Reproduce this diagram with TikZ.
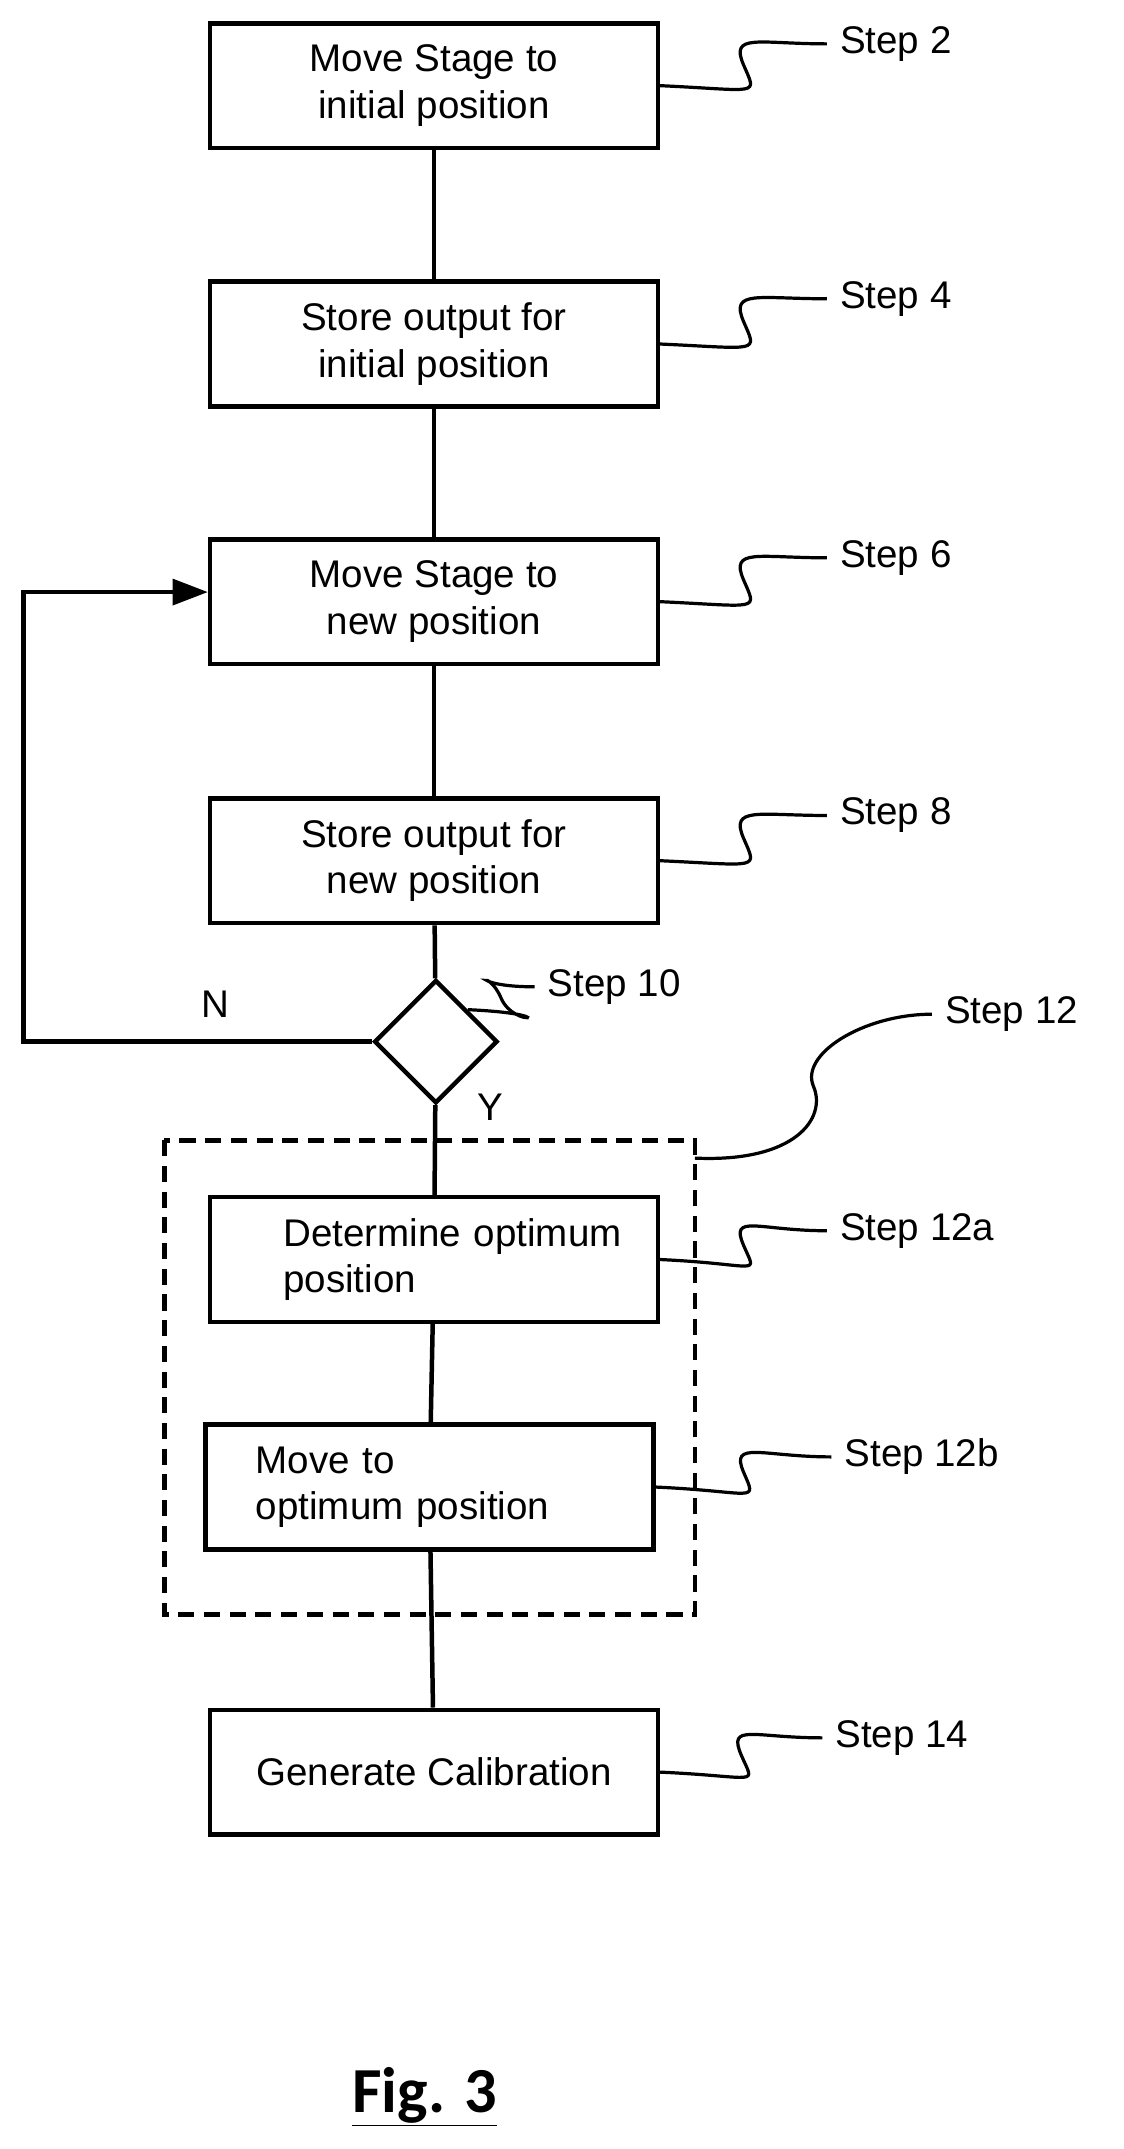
\documentclass[tikz,border=0pt]{standalone}
\usepackage{fontspec}
\setmainfont{Liberation Sans}
\newfontfamily\figfont{Carlito}
\usetikzlibrary{shapes.geometric, arrows.meta, calc}

\tikzset{
	box/.style={draw, line width=2.8pt, minimum width=9.8cm, minimum height=2.73cm, align=center, inner sep=4pt},
	dec/.style={draw, diamond, line width=2.8pt, inner sep=0pt, minimum width=2.7cm, minimum height=2.7cm},
	link/.style={line width=2.8pt},
	wig/.style={line width=2pt},
	lbl/.style={anchor=west, inner sep=8pt}
}
\newcommand{\wiggle}[2]{%
	\draw[wig] (#1) .. controls +(2.2,-0.1) and +(0.3,-0.7) .. ($(#1)!0.5!(#2.west)$)
	.. controls +(-0.3,0.7) and +(-1.5,0) .. (#2.west);}

\begin{document}
\begin{tikzpicture}[font=\fontsize{24}{29}\selectfont]
	\useasboundingbox (0,0) rectangle (24.6,-47.04);
	% process boxes
	\node[box] (mv1) at (9.5,-1.875) {Move Stage to\\initial position};
	\node[box] (st1) at (9.5,-7.53) {Store output for\\initial position};
	\node[box] (mv2) at (9.5,-13.17) {Move Stage to\\new position};
	\node[box] (st2) at (9.5,-18.84) {Store output for\\new position};
	\node[dec] (chk) at (9.54,-22.8) {};
	\draw[line width=2.8pt, dash pattern=on 10pt off 6pt] (3.6,-24.96) rectangle (15.21,-35.34);
	\node[box, align=left, text width=9.4cm] (opt) at (9.5,-27.57) {\hspace*{1.4cm}Determine optimum\\\hspace*{1.4cm}position};
	\node[box, align=left, text width=9.4cm] (mvo) at (9.4,-32.55) {\hspace*{0.9cm}Move to\\\hspace*{0.9cm}optimum position};
	\node[box] (cal) at (9.5,-38.79) {Generate Calibration};

	% connectors
	\draw[link] (mv1) -- (st1);
	\draw[link] (st1) -- (mv2);
	\draw[link] (mv2) -- (st2);
	\draw[link] (st2) -- (chk);
	\draw[link] (chk) -- (opt);
	\draw[link] (opt) -- (mvo);
	\draw[link] (mvo) -- (cal);
	\coordinate (back) at (0.51,-12.96);
	\draw[link, -{Triangle[length=22pt, width=16pt]}] (chk.west) -| (back) -- (mv2.west |- back);
	\node (n) at (4.71,-21.99) {N};
	\node (y) at (10.74,-24.24) {Y};

	% step labels
	\node[lbl] (s2) at (18.1,-0.96) {Step 2};
	\node[lbl] (s4) at (18.1,-6.54) {Step 4};
	\node[lbl] (s6) at (18.1,-12.21) {Step 6};
	\node[lbl] (s8) at (18.1,-17.85) {Step 8};
	\node[lbl] (s10) at (11.7,-21.6) {Step 10};
	\node[lbl] (s12) at (20.4,-22.2) {Step 12};
	\node[lbl] (s12a) at (18.1,-26.94) {Step 12a};
	\node[lbl] (s12b) at (18.2,-31.89) {Step 12b};
	\node[lbl] (s14) at (18.0,-38.04) {Step 14};
	\wiggle{mv1.east}{s2}
	\wiggle{st1.east}{s4}
	\wiggle{mv2.east}{s6}
	\wiggle{st2.east}{s8}
	\wiggle{chk.north east}{s10}
	\wiggle{15.21,-25.35}{s12}
	\wiggle{opt.east}{s12a}
	\wiggle{mvo.east}{s12b}
	\wiggle{cal.east}{s14}

	\node (fig) at (9.3,-45.9) {\figfont\fontsize{40}{48}\selectfont\bfseries\underline{Fig. 3}};
\end{tikzpicture}
\end{document}
